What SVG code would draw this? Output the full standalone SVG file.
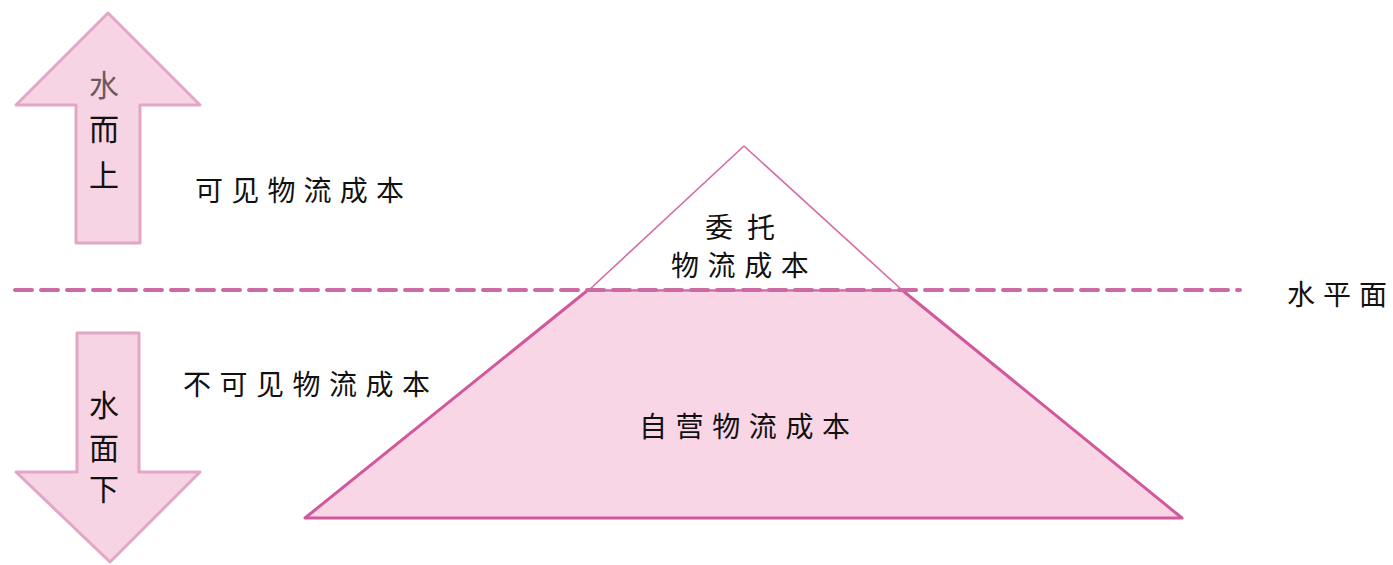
<svg xmlns="http://www.w3.org/2000/svg" width="1393" height="565" viewBox="0 0 1393 565">
<style>
.arrow{fill:#f7d4e4;stroke:#e3a6c6;stroke-width:3;stroke-linejoin:round}
.t{font-family:"Noto Sans CJK SC","Noto Sans",sans-serif;font-size:28px;fill:#111}
.at{font-family:"Noto Sans CJK SC","Noto Sans",sans-serif;font-size:30px;fill:#111;text-anchor:middle}
</style>
<rect width="1393" height="565" fill="#ffffff"/>
<g id="arrow-up">
<polygon class="arrow" points="108,13 200,105 140,105 140,243 76,243 76,105 16,105"/>
<text class="at" x="104" y="96" style="fill:#6a5a62">水</text>
<text class="at" x="104" y="140">而</text>
<text class="at" x="104" y="186">上</text>
</g>
<g id="arrow-down">
<polygon class="arrow" points="77,333 139,333 139,472 200,472 110,562 16,472 77,472"/>
<text class="at" x="104" y="416">水</text>
<text class="at" x="104" y="459">面</text>
<text class="at" x="104" y="500">下</text>
</g>
<g id="label-visible">
<text class="t" x="195" y="201" letter-spacing="8.2">可见物流成本</text>
</g>
<g id="label-invisible">
<text class="t" x="183" y="395" letter-spacing="8.5">不可见物流成本</text>
</g>
<g id="lower-trapezoid">
<polygon points="588,290 902,290 1182,518 305,518" fill="#f9d6e6" stroke="#d2589c" stroke-width="3" stroke-linejoin="round"/>
<text class="t" x="639" y="437" letter-spacing="8.6">自营物流成本</text>
</g>
<g id="upper-triangle">
<polygon points="744,146 902,290 589,290" fill="#ffffff" stroke="#d56aa6" stroke-width="1.6" stroke-linejoin="round"/>
<text class="t" x="705" y="238" letter-spacing="14">委托</text>
<text class="t" x="671" y="276" letter-spacing="8.6">物流成本</text>
</g>
<g id="connectors">
<line x1="15" y1="290" x2="1240" y2="290" stroke="#cc6aa3" stroke-width="4" stroke-dasharray="17 9" stroke-linecap="round"/>
</g>
<g id="label-water">
<text class="t" x="1287" y="305" letter-spacing="8">水平面</text>
</g>
</svg>
